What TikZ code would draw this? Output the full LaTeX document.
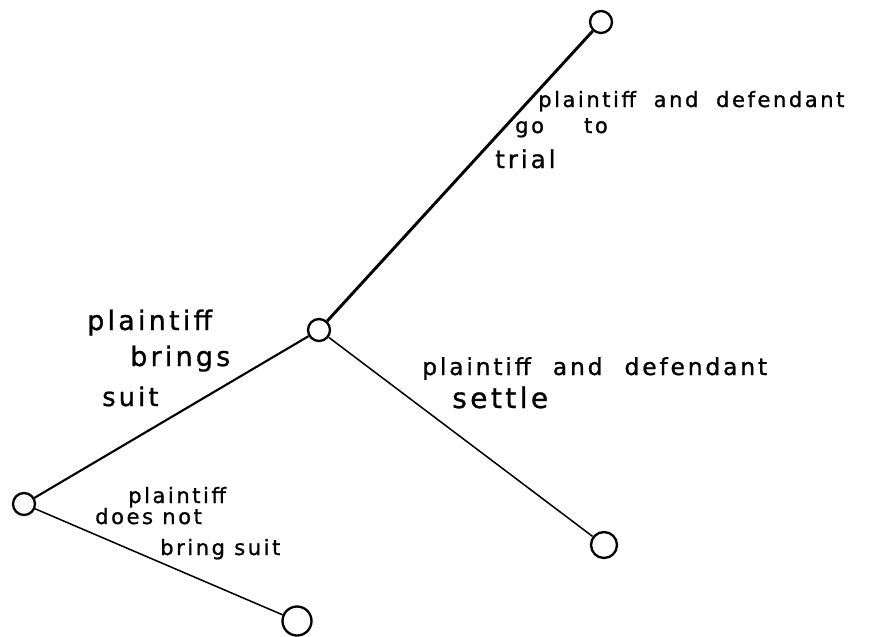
\documentclass[tikz,border=0pt]{standalone}
\usepackage{fontspec}
\newfontfamily\hand[LetterSpace=12,FakeBold=1]{DejaVu Sans}
\usetikzlibrary{positioning}

\begin{document}
\begin{tikzpicture}[x=0.03cm, y=-0.03cm,
    decision/.style={circle, draw, line width=2pt, minimum size=0.66cm, inner sep=0pt},
    branch/.style={draw, line width=1.3pt},
    words/.style={anchor=base west, inner sep=0pt, font=\hand\fontsize{#1}{#1}\selectfont}]

    \useasboundingbox (0,0) rectangle (889,636);

    \node [decision] (start) at (24,504) {};
    \node [decision] (sue) at (319,330) {};
    \node [decision] (trial) at (601,22) {};
    \node [decision, minimum size=0.78cm] (settle) at (604,545) {};
    \node [decision, minimum size=0.87cm] (nosuit) at (297,621) {};

    \path [branch, line width=1.8pt] (start) -- (sue);
    \path [branch, line width=2.5pt] (sue) -- (trial);
    \path [branch] (sue) -- (settle);
    \path [branch] (start) -- (nosuit);

    % go to trial
    \node [words=18] (trialA) at (538,107) {plaintiff\hspace{0.4em} and\hspace{0.4em} defendant};
    \node [words=18] (trialB) at (515,133) {go\hspace{1.9em}to};
    \node [words=21] (trialC) at (495,168) {trial};

    % brings suit
    \node [words=23] (sueA) at (87,330) {plaintiff};
    \node [words=23] (sueB) at (130,366) {brings};
    \node [words=22] (sueC) at (102,406) {suit};

    % settle
    \node [words=20] (settleA) at (422,375) {plaintiff\hspace{0.5em} and\hspace{0.5em} defendant};
    \node [words=24] (settleB) at (452,408) {settle};

    % does not bring suit
    \node [words=18] (nosuitA) at (128,503) {plaintiff};
    \node [words=18] (nosuitB) at (95,524) {does not};
    \node [words=18] (nosuitC) at (160,555) {bring suit};
\end{tikzpicture}
\end{document}
